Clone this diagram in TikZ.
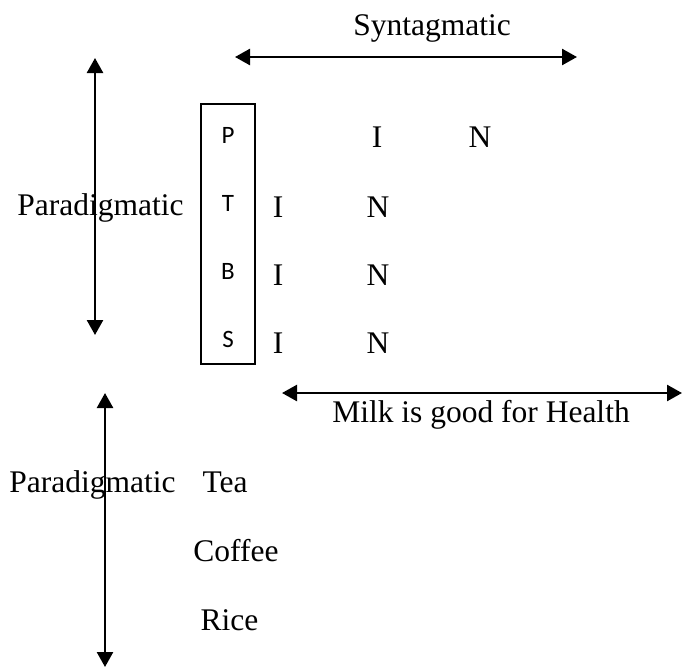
\documentclass[tikz,border=0pt]{standalone}
\usepackage{fontspec}
\setmainfont{Liberation Serif}
\newfontfamily\lettersans{Carlito}
\usetikzlibrary{arrows.meta}
\tikzset{
  lbl/.style={inner sep=0pt, anchor=base, font=\fontsize{31.5}{36}\selectfont},
  sl/.style={inner sep=0pt, anchor=base, font=\lettersans\fontsize{25}{30}\selectfont},
  dbl/.style={line width=2.5pt, {Triangle[length=15pt,width=16pt]}-{Triangle[length=15pt,width=16pt]}},
  framebox/.style={draw, line width=2pt, inner sep=0pt}
}
\begin{document}
\begin{tikzpicture}[x=1pt,y=-1pt]
\useasboundingbox (0,0) rectangle (682,667);
% Syntagmatic
\node[lbl] (syn) at (432,35) {Syntagmatic};
\coordinate (synL) at (235,57);
\coordinate (synR) at (577,57);
\draw[dbl] (synL) -- (synR);
% upper paradigmatic arrow
\coordinate (p1T) at (95,58);
\coordinate (p1B) at (95,335);
\draw[dbl] (p1T) -- (p1B);
\node[lbl] (para1) at (100.5,215) {Paradigmatic};
% box
\node[framebox, minimum width=54pt, minimum height=260pt] (box) at (228,234) {};
\node[sl] (P) at (228,143) {P};
\node[sl] (T) at (228,211) {T};
\node[sl] (B) at (228,279) {B};
\node[sl] (S) at (228,347) {S};
% I / N rows
\node[lbl] (I1) at (377,147) {I};
\node[lbl] (N1) at (480,147) {N};
\node[lbl] (I2) at (278,217) {I};
\node[lbl] (N2) at (378,217) {N};
\node[lbl] (I3) at (278,285) {I};
\node[lbl] (N3) at (378,285) {N};
\node[lbl] (I4) at (278,353) {I};
\node[lbl] (N4) at (378,353) {N};
% Milk arrow
\coordinate (mL) at (282,393);
\coordinate (mR) at (682,393);
\draw[dbl] (mL) -- (mR);
\node[lbl] (milk) at (481,422) {Milk is good for Health};
% lower paradigmatic arrow
\coordinate (p2T) at (105,393);
\coordinate (p2B) at (105,667);
\draw[dbl] (p2T) -- (p2B);
\node[lbl] (para2) at (92.5,492) {Paradigmatic};
\node[lbl] (tea) at (225,492) {Tea};
\node[lbl] (coffee) at (236,561) {Coffee};
\node[lbl] (rice) at (229.5,630) {Rice};
\end{tikzpicture}
\end{document}
